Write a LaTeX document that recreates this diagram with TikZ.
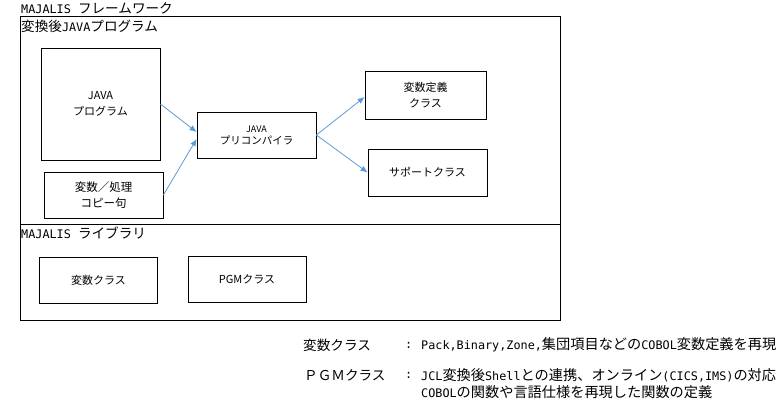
\documentclass[tikz,border=0pt]{standalone}
\usepackage{fontspec}
\setmainfont{Noto Sans CJK JP}
\newfontfamily\gothic{Noto Sans CJK JP}
\newfontfamily\hanmono{DejaVu Sans Mono}
\usetikzlibrary{arrows.meta}
\definecolor{arrowblue}{RGB}{91, 155, 213}
% half-width latin inside the gothic labels
\newcommand{\hw}[2]{{\fontsize{#1}{#1}\hanmono #2}}
\tikzset{
  box/.style={draw, line width=0.8pt, align=center, inner sep=0pt},
  flow/.style={->, >={Latex[length=7pt,width=6pt]}, arrowblue, line width=0.8pt},
  title/.style={anchor=west, inner sep=0pt, font=\fontsize{13.6}{13.6}\gothic},
  legend/.style={anchor=west, inner sep=0pt, font=\fontsize{14.2}{14.2}\gothic}
}
\begin{document}
\begin{tikzpicture}[x=1pt, y=-1pt]
        \useasboundingbox (0,0) rectangle (781,401);

        % Frame: framework above, library below
        \draw[line width=0.8pt] (20,16) rectangle (560,320);
        \draw[line width=0.8pt] (20,224) -- (560,224);
        \node[title] (fwtitle) at (21,8.5) {\hw{11.8}{MAJALIS }フレームワーク};
        \node[title] (jvtitle) at (21,26) {変換後\hw{11.8}{JAVA}プログラム};
        \node[title] (libtitle) at (21,233) {\hw{11.8}{MAJALIS }ライブラリ};

        % Converted JAVA program
        \node[box, minimum width=119pt, minimum height=112pt, font=\fontsize{11}{16}\selectfont] (prog) at (100.5,104) {JAVA\\プログラム};
        \node[box, minimum width=119pt, minimum height=46pt, font=\fontsize{11.5}{15.5}\selectfont] (copyku) at (103.5,195) {変数／処理\\コピー句};
        \node[box, minimum width=119pt, minimum height=46pt] (precomp) at (256.5,135) {{\fontsize{9}{15}\selectfont JAVA}\\{\fontsize{10.5}{15}\selectfont プリコンパイラ}};
        \node[box, minimum width=121pt, minimum height=48pt, font=\fontsize{11}{16}\selectfont] (hensu) at (425.5,95) {変数定義\\クラス};
        \node[box, minimum width=119pt, minimum height=47pt, font=\fontsize{11}{16}\selectfont] (support) at (427.5,172.5) {サポートクラス};

        \draw[flow] (prog.east) -- ([yshift=3pt]precomp.west);
        \draw[flow] (copyku.east) -- ([yshift=-4pt]precomp.west);
        \draw[flow] (precomp.east) -- ([yshift=-2pt]hensu.west);
        \draw[flow] (precomp.east) -- (support.west);

        % Library classes
        \node[box, minimum width=118pt, minimum height=46pt, font=\fontsize{11}{16}\selectfont] (hensuclass) at (98.5,280) {変数クラス};
        \node[box, minimum width=118pt, minimum height=46pt, font=\fontsize{11}{16}\selectfont] (pgmclass) at (247,279) {PGMクラス};

        % Legend
        \node[legend, font=\fontsize{13.6}{13.6}\gothic] (lghensu) at (303,345) {変数クラス};
        \node[legend] (lgcolon1) at (405,345) {\hw{11.8}{:}};
        \node[legend] (lgtext1) at (421,345) {\hw{11.8}{Pack,Binary,Zone,}集団項目などの\hw{11.8}{COBOL}変数定義を再現};
        \node[legend, font=\fontsize{13.6}{13.6}\gothic] (lgpgm) at (304,375) {ＰＧＭクラス};
        \node[legend] (lgcolon2) at (405,375) {\hw{11.8}{:}};
        \node[legend] (lgtext2) at (421,375) {\hw{11.8}{JCL}変換後\hw{11.8}{Shell}との連携、オンライン\hw{11.8}{(CICS,IMS)}の対応};
        \node[legend] (lgtext3) at (421,392) {\hw{11.8}{COBOL}の関数や言語仕様を再現した関数の定義};
      \end{tikzpicture}
\end{document}
